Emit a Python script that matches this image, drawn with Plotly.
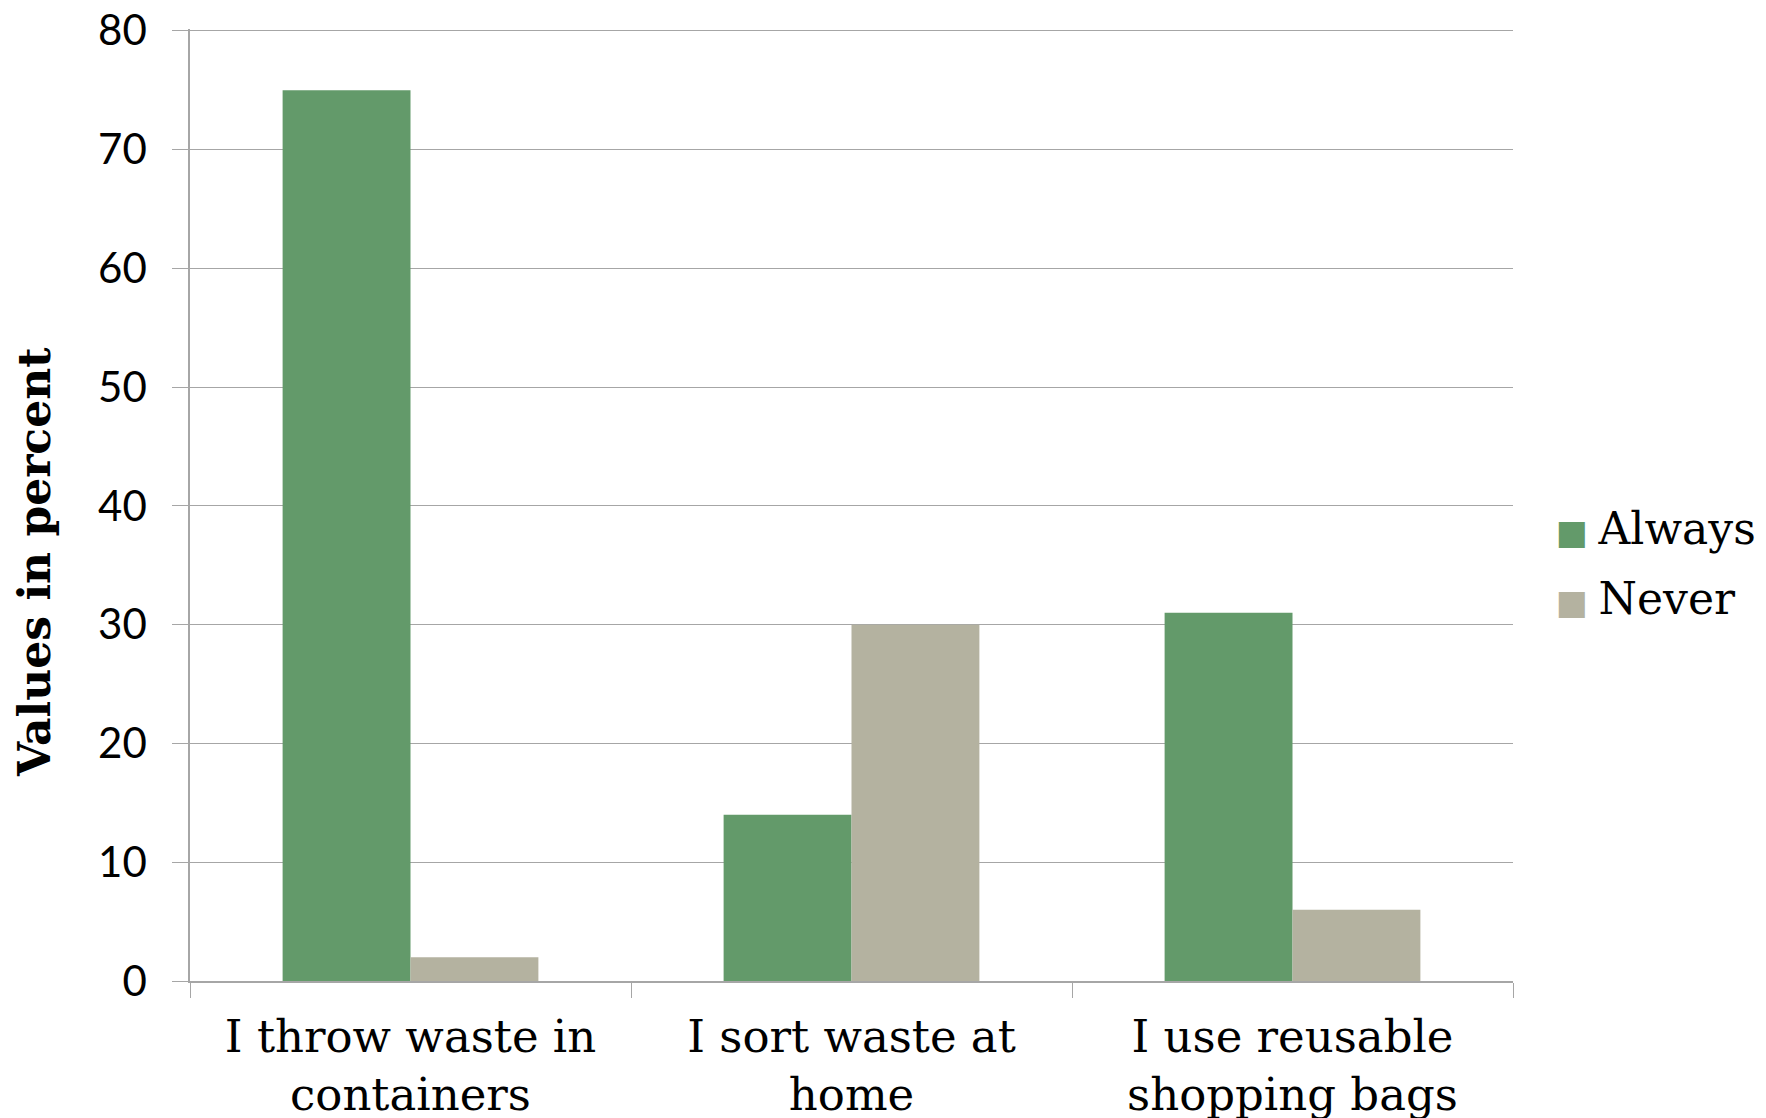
import plotly.graph_objects as go

# Survey answers, values in percent
categories = ["I throw waste in<br>containers", "I sort waste at<br>home", "I use reusable<br>shopping bags"]
always = [75, 14, 31]
never = [2, 30, 6]
y_ticks = [0, 10, 20, 30, 40, 50, 60, 70, 80]

green = "#639A6A"
grey = "#B4B2A0"

fig = go.Figure()

fig.add_trace(go.Bar(
    x=categories, y=always, name="Always", showlegend=False,
    marker=dict(color=green, line=dict(width=0)),
))
fig.add_trace(go.Bar(
    x=categories, y=never, name="Never", showlegend=False,
    marker=dict(color=grey, line=dict(width=0)),
))

# legend entries: plotly caps legend marker size, so draw the swatch as a glyph
for name, col in [("Always", green), ("Never", grey)]:
    fig.add_trace(go.Scatter(
        x=[None], y=[None], mode="markers", legendgroup=name,
        name=f'<span style="color:{col};font-family:DejaVu Sans;font-size:34px">■ </span>{name}',
        marker=dict(symbol="square", size=1, color="rgba(0,0,0,0)"),
    ))

fig.update_layout(
    width=1766, height=1118,
    paper_bgcolor="white", plot_bgcolor="white",
    barmode="group", bargap=0.42, bargroupgap=0,
    margin=dict(l=182, r=261, t=21, b=145),
    showlegend=True,
    legend=dict(
        x=1.002, y=0.44, xanchor="left", yanchor="middle",
        font=dict(family="DejaVu Serif", size=44, color="black"),
        itemwidth=30, tracegroupgap=9,
    ),
    xaxis=dict(
        automargin=False,
        showline=True, linecolor="#A6A6A6", linewidth=1.5,
        ticks="outside", tickson="boundaries", ticklen=15, tickcolor="#A6A6A6",
        tickfont=dict(family="DejaVu Serif", size=45, color="black"),
        ticklabelstandoff=15, ticklabeloverflow="allow",
        showgrid=False,
    ),
    yaxis=dict(
        automargin=False,
        # a bit of headroom so the 80 gridline is not clipped at the edge
        range=[0, 80.15], tickvals=y_ticks,
        showline=True, linecolor="#A6A6A6", linewidth=1.5,
        ticks="outside", ticklen=16, tickcolor="#A6A6A6",
        ticklabelstandoff=17, ticklabeloverflow="allow",
        gridcolor="#A6A6A6", gridwidth=1.2,
        tickfont=dict(family="Lato", size=42, color="black"),
        zeroline=False,
    ),
    annotations=[dict(
        text="<b>Values in percent</b>", textangle=-90,
        xref="paper", yref="paper", x=-0.118, y=0.44,
        xanchor="center", yanchor="middle", showarrow=False,
        font=dict(family="DejaVu Serif", size=44, color="black"),
    )],
)

fig.write_html("out.html")
